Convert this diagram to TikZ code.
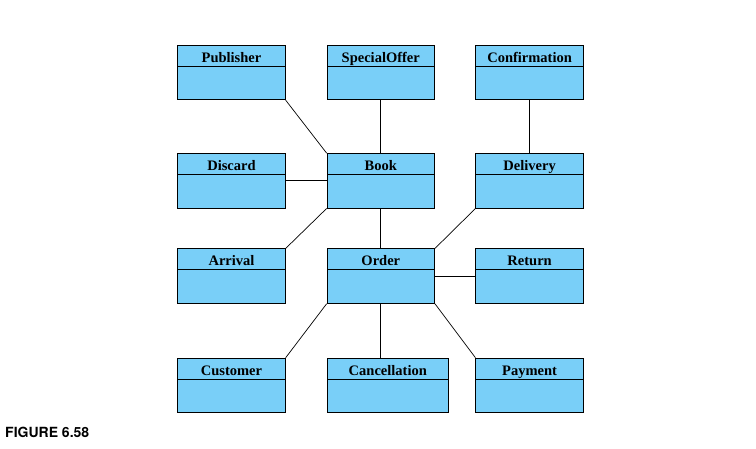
\documentclass[tikz,border=0pt]{standalone}
\usepackage{fontspec}
\setmainfont{Liberation Serif}
\newfontfamily\capfont{TeX Gyre Heros}
\usetikzlibrary{positioning}
\definecolor{classblue}{RGB}{121,207,248}

\begin{document}
\begin{tikzpicture}[
						x=1pt, y=1pt,
						node distance={41pt},
						classbox/.style = {draw, fill=classblue, line width=0.8pt, rectangle, minimum width=107.5pt,
							inner xsep=2pt, inner ysep=4pt, text height=13pt, text depth=33.5pt,
							font=\fontsize{14.5}{17}\selectfont\bfseries,
							path picture={\draw[line width=0.8pt] ([yshift=-21pt]path picture bounding box.north west) -- ([yshift=-21pt]path picture bounding box.north east);}},
						link/.style = {line width=0.7pt}
					]
\useasboundingbox (0,0) rectangle (756,-448);
\node[classbox] (Publisher) at (231.5,-72.5) {Publisher};
\node[classbox] (SpecialOffer) [right=41pt of Publisher] {SpecialOffer};
\node[classbox] (Confirmation) [right=40.5pt of SpecialOffer] {Confirmation};
\node[classbox] (Discard) [below=53pt of Publisher] {Discard};
\node[classbox] (Book) [below=53pt of SpecialOffer] {Book};
\node[classbox] (Delivery) [below=53pt of Confirmation] {Delivery};
\node[classbox] (Arrival) [below=40pt of Discard] {Arrival};
\node[classbox] (Order) [below=40pt of Book] {Order};
\node[classbox] (Return) [below=40pt of Delivery] {Return};
\node[classbox] (Customer) [below=54pt of Arrival] {Customer};
\node[classbox] (Cancellation) [below=54pt of Order.south west, anchor=north west, minimum width=121.5pt] {Cancellation};
\node[classbox] (Payment) [below=54pt of Return] {Payment};
\node[font=\capfont\bfseries\fontsize{14}{16}\selectfont, anchor=base west, inner sep=0pt] (caption) at (5,-437) {FIGURE 6.58};

\draw[link] (Publisher.south east) -- (Book.north west);
\draw[link] (SpecialOffer) -- (Book);
\draw[link] (Confirmation) -- (Delivery);
\draw[link] (Discard) -- (Book);
\draw[link] (Arrival.north east) -- (Book.south west);
\draw[link] (Book) -- (Order);
\draw[link] (Delivery.south west) -- (Order.north east);
\draw[link] (Order) -- (Return);
\draw[link] (Order.south west) -- (Customer.north east);
\draw[link] (Order.south) -- (Order.south |- Cancellation.north);
\draw[link] (Order.south east) -- (Payment.north west);
\end{tikzpicture}
\end{document}
